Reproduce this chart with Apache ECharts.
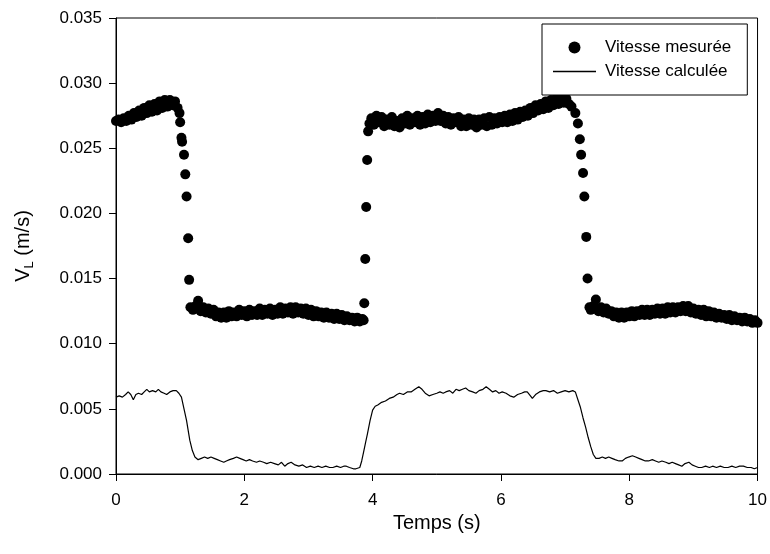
<!DOCTYPE html>
<html>
<head>
<meta charset="utf-8">
<script src="https://cdn.jsdelivr.net/npm/echarts@6/dist/echarts.min.js"></script>
<style>
  html, body { margin: 0; padding: 0; background: #fff; }
  #main { width: 770px; height: 554px; }
</style>
</head>
<body>
<div id="main"></div>
<script>
var chartDom = document.getElementById('main');
var myChart = echarts.init(chartDom);
var option;

const seriesNames = ['Vitesse mesurée', 'Vitesse calculée'];

// measured velocity, [time (s), V_L (m/s)]
const measured = [
  // first high plateau
  [0.00, 0.0271], [0.04, 0.0272], [0.08, 0.0270], [0.12, 0.0273], [0.16, 0.0271],
  [0.20, 0.0275], [0.24, 0.0272], [0.28, 0.0277], [0.32, 0.0274], [0.36, 0.0279],
  [0.40, 0.0275], [0.44, 0.0281], [0.48, 0.0277], [0.52, 0.0283], [0.56, 0.0278],
  [0.60, 0.0284], [0.64, 0.0279], [0.68, 0.0286], [0.72, 0.0281], [0.76, 0.0287],
  [0.80, 0.0282], [0.84, 0.0287], [0.88, 0.0283], [0.92, 0.0286], [0.96, 0.0281],
  // drop
  [0.99, 0.0277], [1.00, 0.0270], [1.02, 0.0258], [1.03, 0.0255], [1.06, 0.0245],
  [1.08, 0.0230], [1.10, 0.0213], [1.125, 0.0181], [1.14, 0.0149], [1.16, 0.0128],
  // first low plateau
  [1.20, 0.0126], [1.24, 0.0129], [1.28, 0.0133], [1.32, 0.0125], [1.36, 0.0128],
  [1.40, 0.0124], [1.44, 0.0127], [1.48, 0.0123], [1.52, 0.0126], [1.56, 0.0121],
  [1.60, 0.0124], [1.64, 0.0120], [1.68, 0.0124], [1.72, 0.0120], [1.76, 0.0125],
  [1.80, 0.0121], [1.84, 0.0124], [1.88, 0.0121], [1.92, 0.0126], [1.96, 0.0122],
  [2.00, 0.0125], [2.04, 0.0121], [2.08, 0.0126], [2.12, 0.0122], [2.16, 0.0125],
  [2.20, 0.0122], [2.24, 0.0127], [2.28, 0.0122], [2.32, 0.0126], [2.36, 0.0123],
  [2.40, 0.0127], [2.44, 0.0122], [2.48, 0.0126], [2.52, 0.0123], [2.56, 0.0128],
  [2.60, 0.0123], [2.64, 0.0127], [2.68, 0.0124], [2.72, 0.0128], [2.76, 0.0123],
  [2.80, 0.0128], [2.84, 0.0124], [2.88, 0.0127], [2.92, 0.0123], [2.96, 0.0127],
  [3.00, 0.0122], [3.04, 0.0126], [3.08, 0.0121], [3.12, 0.0125], [3.16, 0.0121],
  [3.20, 0.0124], [3.24, 0.0120], [3.28, 0.0124], [3.32, 0.0120], [3.36, 0.0123],
  [3.40, 0.0119], [3.44, 0.0123], [3.48, 0.0119], [3.52, 0.0122], [3.56, 0.0118],
  [3.60, 0.0121], [3.64, 0.0118], [3.68, 0.0120], [3.72, 0.0117], [3.76, 0.0120],
  [3.80, 0.0117], [3.84, 0.0119],
  // rise
  [3.86, 0.0118], [3.87, 0.0131], [3.885, 0.0165], [3.90, 0.0205], [3.915, 0.0241],
  [3.93, 0.0263], [3.95, 0.0269],
  // second high plateau
  [3.98, 0.0273], [4.02, 0.0268], [4.06, 0.0275], [4.10, 0.0270], [4.14, 0.0274],
  [4.18, 0.0267], [4.22, 0.0272], [4.26, 0.0268], [4.30, 0.0274], [4.34, 0.0267],
  [4.38, 0.0271], [4.42, 0.0266], [4.46, 0.0273], [4.50, 0.0269], [4.54, 0.0275],
  [4.58, 0.0268], [4.62, 0.0273], [4.66, 0.0270], [4.70, 0.0275], [4.74, 0.0268],
  [4.78, 0.0274], [4.82, 0.0269], [4.86, 0.0276], [4.90, 0.0270], [4.94, 0.0275],
  [4.98, 0.0271], [5.02, 0.0277], [5.06, 0.0271], [5.10, 0.0275], [5.14, 0.0269],
  [5.18, 0.0274], [5.22, 0.0268], [5.26, 0.0273], [5.30, 0.0270], [5.34, 0.0274],
  [5.38, 0.0267], [5.42, 0.0272], [5.46, 0.0267], [5.50, 0.0273], [5.54, 0.0268],
  [5.58, 0.0272], [5.62, 0.0266], [5.66, 0.0272], [5.70, 0.0268], [5.74, 0.0273],
  [5.78, 0.0267], [5.82, 0.0274], [5.86, 0.0268], [5.90, 0.0273], [5.94, 0.0269],
  [5.98, 0.0274], [6.02, 0.0270], [6.06, 0.0275], [6.10, 0.0270], [6.14, 0.0276],
  [6.18, 0.0271], [6.22, 0.0277], [6.26, 0.0272], [6.30, 0.0278], [6.34, 0.0274],
  [6.38, 0.0279], [6.42, 0.0275], [6.46, 0.0281], [6.50, 0.0277], [6.54, 0.0283],
  [6.58, 0.0279], [6.62, 0.0284], [6.66, 0.0280], [6.70, 0.0286], [6.74, 0.0281],
  [6.78, 0.0287], [6.82, 0.0283], [6.86, 0.0288], [6.90, 0.0284], [6.94, 0.0289],
  [6.98, 0.0285], [7.02, 0.0288], [7.06, 0.0284], [7.10, 0.0282],
  // drop
  [7.16, 0.0277], [7.20, 0.0269], [7.23, 0.0257], [7.25, 0.0245], [7.28, 0.0231],
  [7.30, 0.0213], [7.33, 0.0182], [7.35, 0.0150], [7.38, 0.0128],
  // second low plateau
  [7.40, 0.0126], [7.44, 0.0129], [7.48, 0.0134], [7.52, 0.0125], [7.56, 0.0128],
  [7.60, 0.0124], [7.64, 0.0127], [7.68, 0.0123], [7.72, 0.0125], [7.76, 0.0121],
  [7.80, 0.0124], [7.84, 0.0120], [7.88, 0.0124], [7.92, 0.0120], [7.96, 0.0124],
  [8.00, 0.0121], [8.04, 0.0125], [8.08, 0.0121], [8.12, 0.0125], [8.16, 0.0122],
  [8.20, 0.0126], [8.24, 0.0122], [8.28, 0.0126], [8.32, 0.0122], [8.36, 0.0126],
  [8.40, 0.0123], [8.44, 0.0127], [8.48, 0.0123], [8.52, 0.0127], [8.56, 0.0123],
  [8.60, 0.0128], [8.64, 0.0124], [8.68, 0.0128], [8.72, 0.0124], [8.76, 0.0128],
  [8.80, 0.0125], [8.84, 0.0129], [8.88, 0.0125], [8.92, 0.0129], [8.96, 0.0124],
  [9.00, 0.0127], [9.04, 0.0123], [9.08, 0.0126], [9.12, 0.0122], [9.16, 0.0126],
  [9.20, 0.0121], [9.24, 0.0125], [9.28, 0.0121], [9.32, 0.0124], [9.36, 0.0120],
  [9.40, 0.0123], [9.44, 0.0120], [9.48, 0.0122], [9.52, 0.0119], [9.56, 0.0122],
  [9.60, 0.0118], [9.64, 0.0121], [9.68, 0.0118], [9.72, 0.0120], [9.76, 0.0117],
  [9.80, 0.0120], [9.84, 0.0117], [9.88, 0.0119], [9.92, 0.0116], [9.96, 0.0118],
  [10.00, 0.0116]
];

// calculated velocity, [time (s), V_L (m/s)]
const calculated = [
  [0.00, 0.0059], [0.05, 0.0060], [0.10, 0.0059], [0.15, 0.0061], [0.19, 0.0063],
  [0.23, 0.0061], [0.27, 0.0057], [0.31, 0.0061], [0.35, 0.0062], [0.40, 0.0061],
  [0.44, 0.0063], [0.48, 0.0065], [0.52, 0.0063], [0.57, 0.0064], [0.62, 0.0063],
  [0.66, 0.0065], [0.70, 0.0063], [0.75, 0.0062], [0.79, 0.0061], [0.84, 0.0063],
  [0.89, 0.0064], [0.94, 0.0064], [0.98, 0.0062], [1.02, 0.0059], [1.06, 0.0050],
  [1.10, 0.0041], [1.13, 0.0032], [1.15, 0.0026], [1.19, 0.0018], [1.23, 0.0013],
  [1.28, 0.0011], [1.33, 0.0012], [1.38, 0.0013], [1.43, 0.0012], [1.48, 0.0013],
  [1.53, 0.0012], [1.58, 0.0011], [1.63, 0.0010], [1.68, 0.0009], [1.72, 0.0010],
  [1.77, 0.0011], [1.83, 0.0012], [1.88, 0.0013], [1.93, 0.0012], [1.98, 0.0011],
  [2.03, 0.0010], [2.08, 0.0011], [2.13, 0.0010], [2.19, 0.0009], [2.24, 0.0010],
  [2.30, 0.0009], [2.35, 0.0008], [2.41, 0.0009], [2.47, 0.0008], [2.53, 0.0007],
  [2.58, 0.0009], [2.63, 0.0006], [2.68, 0.0008], [2.73, 0.0009], [2.79, 0.0007],
  [2.85, 0.0006], [2.91, 0.0007], [2.97, 0.0005], [3.03, 0.0006], [3.09, 0.0005],
  [3.15, 0.0006], [3.21, 0.0005], [3.27, 0.0006], [3.33, 0.0005], [3.38, 0.0005],
  [3.44, 0.0006], [3.50, 0.0005], [3.55, 0.0006], [3.59, 0.0006], [3.64, 0.0005],
  [3.70, 0.0004], [3.74, 0.0004], [3.77, 0.0003], [3.80, 0.0005], [3.83, 0.0010],
  [3.86, 0.0017], [3.89, 0.0024], [3.92, 0.0031], [3.96, 0.0041], [4.00, 0.0049],
  [4.04, 0.0052], [4.08, 0.0053], [4.14, 0.0055], [4.20, 0.0056], [4.26, 0.0058],
  [4.32, 0.0059], [4.38, 0.0061], [4.42, 0.0062], [4.48, 0.0061], [4.54, 0.0063],
  [4.60, 0.0063], [4.66, 0.0065], [4.72, 0.0067], [4.77, 0.0065], [4.82, 0.0062],
  [4.88, 0.0060], [4.94, 0.0061], [5.00, 0.0062], [5.05, 0.0063], [5.10, 0.0062],
  [5.14, 0.0063], [5.20, 0.0064], [5.25, 0.0062], [5.30, 0.0065], [5.35, 0.0064],
  [5.40, 0.0065], [5.45, 0.0066], [5.50, 0.0064], [5.56, 0.0063], [5.61, 0.0062],
  [5.66, 0.0064], [5.72, 0.0065], [5.77, 0.0067], [5.82, 0.0065], [5.87, 0.0063],
  [5.92, 0.0064], [5.97, 0.0062], [6.02, 0.0063], [6.08, 0.0062], [6.14, 0.0060],
  [6.20, 0.0059], [6.26, 0.0061], [6.32, 0.0062], [6.37, 0.0063], [6.41, 0.0063],
  [6.46, 0.0060], [6.49, 0.0058], [6.54, 0.0061], [6.60, 0.0063], [6.66, 0.0064],
  [6.70, 0.0064], [6.76, 0.0063], [6.82, 0.0064], [6.88, 0.0062], [6.94, 0.0063],
  [7.00, 0.0064], [7.06, 0.0063], [7.12, 0.0064], [7.16, 0.0063], [7.20, 0.0057],
  [7.24, 0.0051], [7.28, 0.0043], [7.32, 0.0036], [7.36, 0.0028], [7.40, 0.0021],
  [7.44, 0.0015], [7.48, 0.0012], [7.53, 0.0012], [7.58, 0.0013], [7.63, 0.0012],
  [7.68, 0.0013], [7.73, 0.0012], [7.78, 0.0011], [7.84, 0.0010], [7.89, 0.0010],
  [7.94, 0.0012], [7.99, 0.0013], [8.05, 0.0014], [8.10, 0.0013], [8.15, 0.0012],
  [8.20, 0.0011], [8.25, 0.0010], [8.30, 0.0010], [8.36, 0.0011], [8.41, 0.0010],
  [8.46, 0.0009], [8.51, 0.0010], [8.57, 0.0009], [8.62, 0.0008], [8.67, 0.0009],
  [8.72, 0.0008], [8.77, 0.0007], [8.82, 0.0006], [8.87, 0.0008], [8.93, 0.0009],
  [8.98, 0.0007], [9.03, 0.0006], [9.08, 0.0005], [9.13, 0.0005], [9.19, 0.0006],
  [9.25, 0.0005], [9.30, 0.0006], [9.36, 0.0005], [9.42, 0.0006], [9.48, 0.0005],
  [9.54, 0.0005], [9.60, 0.0006], [9.66, 0.0005], [9.72, 0.0006], [9.78, 0.0006],
  [9.84, 0.0005], [9.90, 0.0005], [9.95, 0.0004], [10.00, 0.0005]
];

const font = 'Liberation Sans, Arial, sans-serif';

option = {
  animation: false,
  backgroundColor: '#fff',
  textStyle: { fontFamily: font, color: '#000' },
  grid: {
    left: 116,
    right: 10,
    top: 18,
    bottom: 80,
    show: true,
    borderColor: '#000',
    borderWidth: 1,
    backgroundColor: 'transparent'
  },
  legend: {
    data: [
      { name: seriesNames[0], icon: 'circle' },
      { name: seriesNames[1], icon: 'path://M0,0 L43,0 L43,1.3 L0,1.3 Z' }
    ],
    orient: 'vertical',
    left: 542,
    top: 24,
    padding: [15, 16, 15, 11],
    itemGap: 7,
    itemWidth: 43,
    itemHeight: 12,
    backgroundColor: '#fff',
    borderColor: '#000',
    borderWidth: 1,
    borderRadius: 0,
    itemStyle: { color: '#000' },
    textStyle: { fontFamily: font, fontSize: 17, color: '#000', padding: [0, 0, 0, 4] }
  },
  xAxis: {
    type: 'value',
    min: 0,
    max: 10,
    interval: 2,
    name: 'Temps (s)',
    nameLocation: 'middle',
    nameGap: 37,
    nameTextStyle: { fontFamily: font, fontSize: 20, color: '#000' },
    axisLine: { lineStyle: { color: '#000', width: 1 } },
    axisTick: { show: true, length: 7, lineStyle: { color: '#000' } },
    axisLabel: { margin: 18, fontSize: 17, color: '#000', fontFamily: font },
    splitLine: { show: false }
  },
  yAxis: {
    type: 'value',
    min: 0,
    max: 0.035,
    interval: 0.005,
    name: '{n|V}{s|L}{n| (m/s)}',
    nameLocation: 'middle',
    nameRotate: 90,
    nameGap: 80,
    nameTextStyle: {
      fontFamily: font,
      color: '#000',
      rich: {
        n: { fontSize: 20, fontFamily: font, color: '#000' },
        s: { fontSize: 13, fontFamily: font, color: '#000', verticalAlign: 'bottom', padding: [12, 0, 0, 0] }
      }
    },
    axisLine: { show: true, lineStyle: { color: '#000', width: 1 } },
    axisTick: { show: true, length: 7, lineStyle: { color: '#000' } },
    axisLabel: {
      margin: 14,
      fontSize: 17,
      color: '#000',
      fontFamily: font,
      formatter: function (v) { return v.toFixed(3); }
    },
    splitLine: { show: false }
  },
  series: [
    {
      name: seriesNames[0],
      type: 'scatter',
      data: measured,
      symbol: 'circle',
      symbolSize: 10,
      itemStyle: { color: '#000', opacity: 1 },
      z: 2
    },
    {
      name: seriesNames[1],
      type: 'line',
      data: calculated,
      symbol: 'none',
      showSymbol: false,
      lineStyle: { color: '#000', width: 1.2 },
      itemStyle: { color: '#000' },
      z: 3
    }
  ]
};

option && myChart.setOption(option);
</script>
</body>
</html>
